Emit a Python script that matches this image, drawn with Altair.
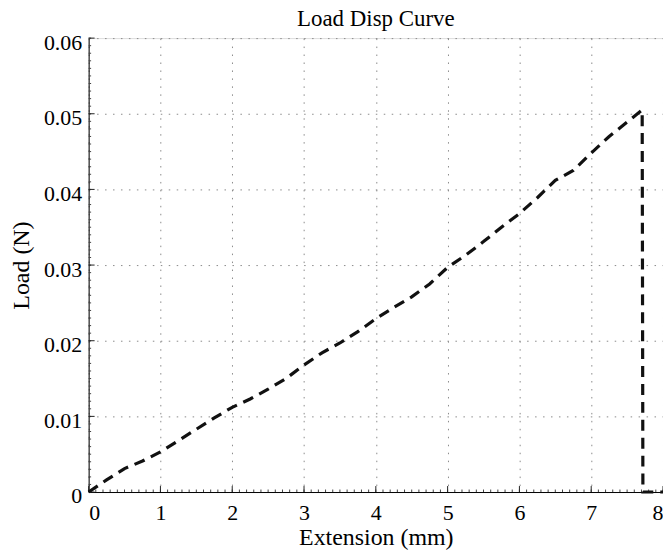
import altair as alt
import pandas as pd

ext = [0.0, 0.25, 0.5, 0.75, 1.0, 1.25, 1.5, 1.75, 2.0, 2.25, 2.5, 2.75, 3.0, 3.25,
       3.5, 3.75, 4.0, 4.25, 4.5, 4.75, 5.0, 5.25, 5.5, 5.75, 6.0, 6.25, 6.5, 6.75,
       7.0, 7.25, 7.5, 7.71, 7.72, 8.0]
load = [0.0, 0.0016, 0.0031, 0.0041, 0.0053, 0.0068, 0.0083, 0.0098, 0.0112, 0.0123,
        0.0136, 0.0150, 0.0168, 0.0184, 0.0197, 0.0212, 0.0229, 0.0244, 0.0258, 0.0275,
        0.0297, 0.0313, 0.0331, 0.0350, 0.0368, 0.0389, 0.0412, 0.0425, 0.0448, 0.0470,
        0.0489, 0.0505, 0.0, 0.0]

x_major = [0, 1, 2, 3, 4, 5, 6, 7, 8]
y_major = [0, 0.01, 0.02, 0.03, 0.04, 0.05, 0.06]
x_minor = [round(i * 0.1, 2) for i in range(0, 81)]
y_minor = [round(i * 0.001, 4) for i in range(0, 61)]

W, H = 577, 456
FONT = "Liberation Serif"

df = pd.DataFrame({"ext": ext, "load": load})
xs = alt.Scale(domain=[0, 8], nice=False, zero=False)
ys = alt.Scale(domain=[0, 0.06], nice=False, zero=False)

xaxis = alt.Axis(values=x_major, format="d", grid=True, gridColor="#8a8a8a",
                 gridDash=[1.5, 6.5], gridWidth=1, tickSize=0, domainColor="#000",
                 domainWidth=1, labelFont=FONT, labelFontSize=22, labelColor="#000",
                 labelPadding=11, title="Extension (mm)", titleFont=FONT,
                 titleFontSize=24, titleFontWeight="normal", titleColor="#000",
                 titlePadding=2)
yaxis = alt.Axis(values=y_major, grid=True, gridColor="#8a8a8a",
                 gridDash=[1.5, 6.5], gridWidth=1, tickSize=0, domainColor="#000",
                 domainWidth=1, labelFont=FONT, labelFontSize=22, labelColor="#000",
                 labelPadding=7, labelOffset=4, title="Load (N)", titleFont=FONT,
                 titleFontSize=24, titleFontWeight="normal", titleColor="#000",
                 titlePadding=10,
                 labelExpr="datum.value == 0 ? '0' : format(datum.value, '.2f')")

line = alt.Chart(df).mark_line(color="#111", strokeWidth=3.2,
                               strokeDash=[11, 7]).encode(
    x=alt.X("ext:Q", scale=xs, axis=xaxis),
    y=alt.Y("load:Q", scale=ys, axis=yaxis),
    order="index:Q",
).transform_window(index="row_number()")

xmin_df = pd.DataFrame({"v": x_minor})
ymin_df = pd.DataFrame({"v": y_minor})
xmaj_df = pd.DataFrame({"v": x_major})
ymaj_df = pd.DataFrame({"v": y_major})

xminor = alt.Chart(xmin_df).mark_rule(color="#444", strokeWidth=1).encode(
    x=alt.X("v:Q", scale=xs), y=alt.value(H), y2=alt.value(H - 2.5))
yminor = alt.Chart(ymin_df).mark_rule(color="#444", strokeWidth=1).encode(
    y=alt.Y("v:Q", scale=ys), x=alt.value(0), x2=alt.value(2.5))
xmajor = alt.Chart(xmaj_df).mark_rule(color="#222", strokeWidth=1).encode(
    x=alt.X("v:Q", scale=xs), y=alt.value(H), y2=alt.value(H - 6))
ymajor = alt.Chart(ymaj_df).mark_rule(color="#222", strokeWidth=1).encode(
    y=alt.Y("v:Q", scale=ys), x=alt.value(0), x2=alt.value(6))

chart = alt.layer(xminor, yminor, xmajor, ymajor, line).properties(
    width=W, height=H,
    title=alt.TitleParams("Load Disp Curve", font=FONT, fontSize=23,
                          fontWeight="normal", color="#000", offset=0),
    autosize=alt.AutoSizeParams(type="none"),
    padding={"left": 81, "top": 29, "right": 0, "bottom": 60},
).configure_view(stroke=None).configure(background="white")

chart.save("out.html", embed_options={"renderer": "svg", "actions": False})
